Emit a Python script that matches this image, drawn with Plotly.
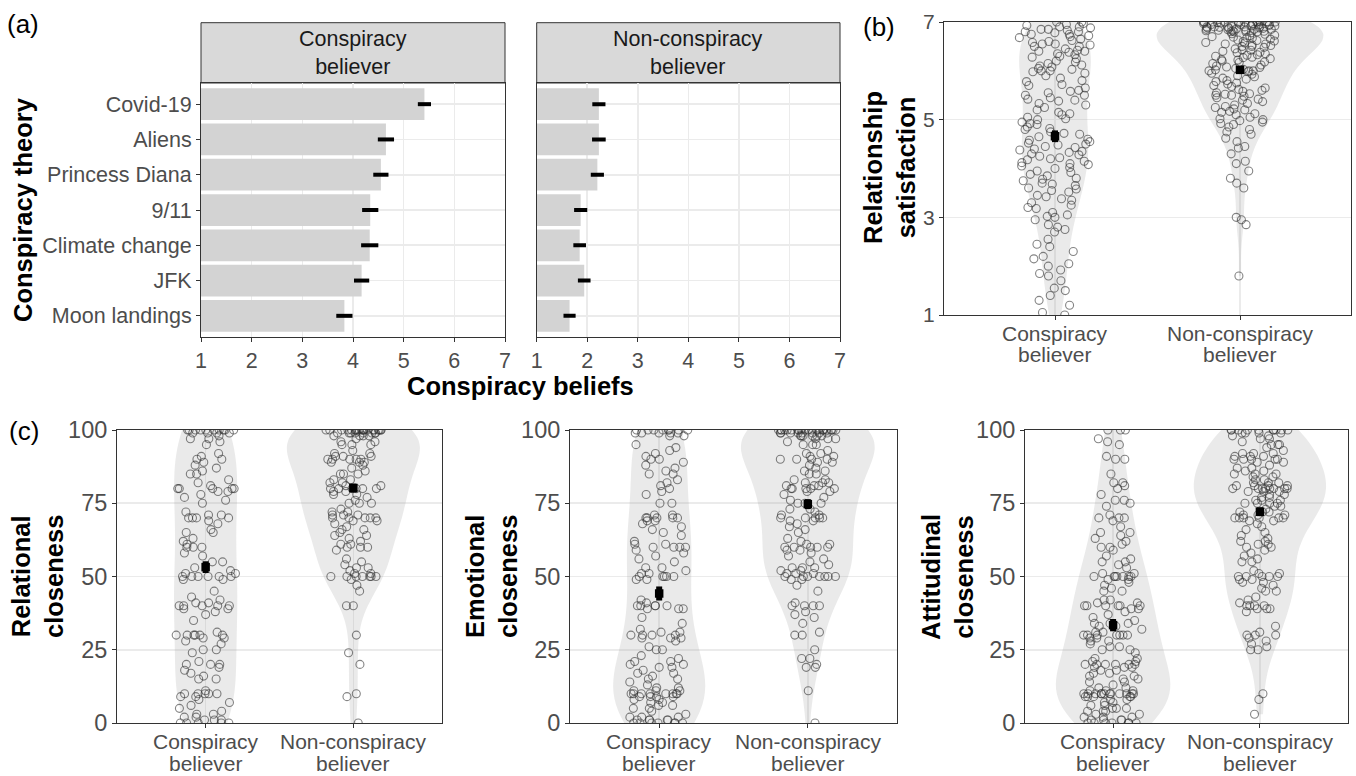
import plotly.graph_objects as go

W, H = 1356, 776
FONT = "Liberation Sans, Arial, Helvetica, sans-serif"

# ---------------- data ----------------
theories = ["Covid-19", "Aliens", "Princess Diana", "9/11", "Climate change", "JFK", "Moon landings"]
believer_means = [5.41, 4.65, 4.55, 4.34, 4.33, 4.17, 3.83]
believer_se = [0.13, 0.16, 0.15, 0.16, 0.17, 0.15, 0.16]
nonbeliever_means = [2.23, 2.23, 2.20, 1.87, 1.85, 1.94, 1.65]
nonbeliever_se = [0.13, 0.135, 0.13, 0.13, 0.125, 0.125, 0.12]

groups = ["Conspiracy believer", "Non-conspiracy believer"]
group_line1 = ["Conspiracy", "Non-conspiracy"]
group_line2 = ["believer", "believer"]

sat_believer = [
    7.0, 7.0, 6.97, 6.95, 6.93, 6.9, 6.9, 6.88, 6.85, 6.85, 6.83, 6.8, 6.8, 6.78, 6.75, 6.75, 6.72, 6.7,
    6.68, 6.65, 6.62, 6.6, 6.58, 6.55, 6.55, 6.53, 6.5, 6.5,
    6.45, 6.42, 6.4, 6.4, 6.38, 6.35, 6.33, 6.3, 6.28, 6.25, 6.2, 6.18, 6.15, 6.12, 6.1, 6.08, 6.05,
    6.03, 6.0, 6.0, 5.98, 5.95,
    5.9, 5.85, 5.8, 5.78, 5.72, 5.7, 5.65, 5.6, 5.58, 5.55, 5.5, 5.5,
    5.45, 5.42, 5.4, 5.38, 5.33, 5.3, 5.25, 5.2, 5.15, 5.12, 5.1, 5.05, 5.02, 5.0,
    4.95, 4.92, 4.9, 4.85, 4.82, 4.8, 4.75, 4.72, 4.7, 4.65, 4.6, 4.58, 4.55, 4.52, 4.5,
    4.48, 4.45, 4.43, 4.4, 4.38, 4.35, 4.33, 4.3, 4.28, 4.25, 4.22, 4.2, 4.18, 4.15, 4.12, 4.1, 4.08,
    4.05, 4.02, 4.0,
    3.95, 3.92, 3.88, 3.85, 3.8, 3.78, 3.75, 3.7, 3.68, 3.65, 3.6, 3.58, 3.55, 3.52,
    3.45, 3.42, 3.38, 3.35, 3.3, 3.25, 3.2, 3.18, 3.1, 3.05, 3.02, 3.0,
    2.95, 2.85, 2.8, 2.75, 2.7, 2.55,
    2.45, 2.4, 2.3, 2.2, 2.15, 2.05, 2.0,
    1.92, 1.85, 1.8, 1.7, 1.55, 1.5,
    1.4, 1.3, 1.2, 1.05, 1.0,
]
sat_nonbeliever = [
    7.0, 7.0, 7.0, 7.0, 7.0, 7.0, 7.0, 7.0, 7.0, 7.0, 7.0, 7.0, 6.98, 6.97, 6.95, 6.95, 6.95, 6.93,
    6.92, 6.9, 6.9, 6.9, 6.9, 6.88, 6.87, 6.85, 6.85, 6.85, 6.83, 6.82, 6.8, 6.8, 6.8, 6.8, 6.97,
    6.96, 6.94, 6.92, 6.9, 6.88, 6.86, 6.84, 6.82, 6.81, 6.99, 6.98, 6.91, 6.89, 6.87, 6.83,
    6.78, 6.75, 6.73, 6.72, 6.7, 6.68, 6.67, 6.65, 6.63, 6.62, 6.6, 6.58, 6.57, 6.55, 6.55, 6.53,
    6.52, 6.5, 6.5, 6.76, 6.69, 6.61,
    6.48, 6.45, 6.43, 6.42, 6.4, 6.38, 6.37, 6.35, 6.33, 6.32, 6.3, 6.28, 6.27, 6.25, 6.23, 6.22,
    6.2, 6.18, 6.17, 6.15, 6.12, 6.1, 6.08, 6.07, 6.05, 6.03, 6.02, 6.0, 6.0, 6.0,
    5.98, 5.95, 5.93, 5.9, 5.88, 5.85, 5.83, 5.8, 5.78, 5.75, 5.73, 5.7, 5.68, 5.65, 5.62, 5.6,
    5.58, 5.55, 5.53, 5.52, 5.5, 5.5,
    5.48, 5.45, 5.42, 5.4, 5.37, 5.33, 5.3, 5.27, 5.25, 5.22, 5.2, 5.17, 5.15, 5.12, 5.1, 5.05,
    5.02, 5.0,
    4.98, 4.95, 4.92, 4.9, 4.85, 4.8, 4.75, 4.7, 4.62, 4.55,
    4.45, 4.42, 4.3, 4.15, 4.1,
    3.95, 3.8, 3.7, 3.6,
    3.0, 2.95, 2.85,
    1.8,
]

rel_believer = [
    100, 100, 100, 100, 100, 99, 99, 100, 100, 99, 100, 100, 99, 98, 100,
    97, 96, 95, 97,
    92, 91, 90, 90, 89,
    88, 87, 86, 85, 85,
    83, 82, 81, 80, 80, 80, 80, 80, 79, 79,
    78, 77, 76, 75,
    72, 71, 71, 70, 70, 70, 70, 69,
    68, 66, 65, 65,
    63, 62, 61, 60, 60, 60,
    58, 57, 55, 55,
    53, 52, 51, 51, 50, 50, 50, 50, 50, 50, 49, 49,
    45, 43,
    42, 41, 41, 40, 40, 40, 40, 40, 39, 39,
    38, 37, 35,
    31, 30, 30, 30, 30, 30, 30, 29, 29, 28,
    27, 25, 25, 24,
    21, 20, 20, 20, 19, 18,
    17, 16, 15, 15,
    11, 10, 10, 10, 10, 10, 9, 9,
    8, 7, 6, 5, 4,
    3, 3, 2, 2, 1, 1, 1, 0, 0, 0, 0, 0,
]
rel_nonbeliever = [
    100, 100, 100, 100, 100, 100, 100, 100, 100, 100, 100, 100, 100, 100, 100, 100, 100, 100, 100, 100,
    99, 99, 99, 99, 99, 99, 99, 99, 98, 98, 98, 98,
    97, 96, 96, 95, 95, 95,
    93, 92, 92, 91, 91, 91, 90, 90, 90, 90, 90, 89, 89, 89,
    88, 87, 86, 85, 85, 85,
    83, 83, 82, 82, 81, 81, 80, 80, 80, 80, 80, 80, 79, 79,
    78, 78, 77, 76, 75, 75, 75,
    73, 72, 72, 71, 71, 71, 70, 70, 70, 70, 70, 69, 69, 68,
    67, 66, 66, 65, 64, 64,
    63, 62, 61, 61, 60, 60, 60, 59,
    56, 55,
    54, 53, 53, 52, 51, 51, 50, 50, 50, 50, 50, 50, 50, 49,
    47, 45,
    40, 40,
    30, 24, 20, 10, 9, 0,
]

emo_believer = [
    100, 100, 100, 100, 100, 100, 100, 100, 99, 99, 99, 99, 99, 98, 98,
    95, 94, 93, 92, 91, 90, 90, 89,
    88, 87, 86, 85, 85,
    83, 82, 81, 80,
    79, 78, 75, 75,
    71, 71, 70, 70, 70, 70, 70, 69, 69,
    68, 67, 66, 65, 64,
    62, 61, 61, 60, 60, 60, 60, 59,
    58, 57, 56, 55,
    53, 53, 52, 51, 51, 50, 50, 50, 50, 50, 49, 49,
    42, 41, 40, 40, 40, 40, 40, 39, 39, 39,
    36, 34,
    32, 31, 31, 30, 30, 30, 30, 29, 29, 29, 28,
    26, 25, 25,
    23, 22, 21, 21, 20, 20, 19, 19,
    18, 17, 17, 16, 15, 15, 14, 13,
    12, 11, 11, 10, 10, 10, 10, 10, 10, 10, 9, 9, 9, 8, 8, 12, 11, 10, 9,
    7, 6, 6, 5, 4, 7, 5,
    3, 2, 2, 1, 1, 1, 1, 0, 0, 0, 0, 0, 0, 0, 2, 1,
]
emo_nonbeliever = [
    100, 100, 100, 100, 100, 100, 100, 100, 100, 100, 100, 100, 100, 100, 100, 100, 100, 100, 100, 100,
    100, 100, 99, 99, 99, 99, 99, 99, 99, 99, 98, 98, 98, 98, 98, 98, 97, 97, 97,
    96, 95, 95, 95,
    93, 92, 92, 91, 91, 90, 90, 90, 90, 89, 89, 88,
    87, 86, 86, 85, 85,
    83, 83, 82, 82, 82, 81, 81, 81, 80, 80, 80, 80, 80, 79, 79, 78,
    77, 76, 75, 75, 75,
    73, 73, 72, 71, 71, 70, 70, 70, 70, 70, 69, 69,
    68, 67, 66, 65,
    63, 62, 61, 61, 60, 60, 60, 60, 60, 59, 59,
    58, 57, 56, 55,
    54, 53, 53, 53, 52, 52, 51, 51, 51, 50, 50, 50, 50, 50, 50, 50, 49, 49,
    47, 45,
    41, 40, 40, 40, 40, 38,
    37, 36, 34,
    31, 30, 30,
    25, 22, 22, 20, 19, 19,
    11, 0,
]

att_believer = [
    100, 100, 100,
    97, 96, 95,
    91, 90, 90,
    85,
    82, 82, 81, 80,
    78, 76, 76, 75, 74,
    71, 70, 70, 70,
    69, 67, 65, 65, 64, 63,
    62, 61, 60, 60, 59,
    57, 56, 55, 55, 54, 53,
    51, 51, 50, 50, 50, 50, 50, 50, 50, 49, 49, 48,
    47, 46, 45, 45,
    42, 42, 41, 41, 40, 40, 40, 40, 40, 40, 39, 39,
    38, 37, 36, 35, 34, 34, 34,
    33, 33, 32, 31, 31, 30, 30, 30, 30, 30, 30, 30, 29, 29, 28, 28,
    27, 26, 26, 25, 25, 24,
    22, 22, 21, 21, 20, 20, 20, 20, 20, 20, 19, 19, 19,
    18, 18, 17, 17, 16, 16, 15, 15, 14, 14,
    13, 12, 12, 11, 11, 11, 10, 10, 10, 10, 10, 10, 10, 10, 10, 10, 10, 10, 9, 9, 9, 9, 9, 8,
    8, 7, 7, 6, 6, 5, 5, 5, 4, 4, 4,
    3, 3, 2, 2, 2, 1, 1, 1, 1, 0, 0, 0, 0, 0, 0, 0,
]
att_nonbeliever = [
    100, 100, 100, 100, 100, 100, 100, 100, 100, 100, 99, 99, 99, 99, 98, 98,
    97, 97, 96, 95, 95, 95, 94,
    93, 92, 92, 92, 91, 91, 91, 90, 90, 90, 90, 90, 89, 89,
    88, 87, 87, 86, 86, 85, 85, 85, 84, 84,
    83, 83, 82, 82, 82, 81, 81, 81, 81, 80, 80, 80, 80, 80, 80, 80, 80, 79, 79, 79, 78, 78,
    77, 77, 76, 76, 76, 75, 75, 75, 75, 74, 74,
    73, 72, 72, 72, 71, 71, 71, 70, 70, 70, 70, 70, 70, 69, 69, 68,
    67, 66, 65, 64,
    63, 62, 62, 61, 61, 60, 60, 59, 58,
    57, 56, 55, 55,
    52, 51, 51, 50, 50, 50, 50, 50, 49, 49, 48, 48,
    47, 46, 45, 45,
    43, 42, 41, 40, 40, 40, 40, 39, 39, 39, 38,
    33, 31, 30, 30, 30, 29,
    28, 27, 26, 25, 25,
    10, 8, 3,
]

sat_means = [4.66, 6.02]
sat_se = [0.12, 0.06]
rel_means = [53.2, 80.2]
rel_se = [2.0, 1.5]
emo_means = [44.2, 74.7]
emo_se = [2.4, 1.7]
att_means = [33.4, 72.1]
att_se = [2.1, 1.5]

# ---------------- layout helpers ----------------
def fx(p):
    return p / W


def fy(p):
    return 1 - p / H


AX_COL = "#333333"
TICK_COL = "#4d4d4d"
GRID = "#ebebeb"


def base_axis(size=21.5, **kw):
    d = dict(showline=True, linecolor=AX_COL, linewidth=1, mirror=True,
             ticks="outside", ticklen=4, tickcolor=AX_COL, tickwidth=1,
             showgrid=True, gridcolor=GRID, gridwidth=1.6, zeroline=False,
             automargin=False,
             tickfont=dict(family=FONT, size=size, color=TICK_COL), fixedrange=True)
    d.update(kw)
    return d


fig = go.Figure()
shapes = []
annotations = []

# ---------------- panel (a) ----------------
for i, (means, se) in enumerate([(believer_means, believer_se), (nonbeliever_means, nonbeliever_se)]):
    xa = "x" if i == 0 else "x2"
    ya = "y" if i == 0 else "y2"
    fig.add_trace(go.Bar(x=means, y=theories, orientation="h", width=0.9,
                         marker=dict(color="#d3d3d3", line=dict(width=0)),
                         xaxis=xa, yaxis=ya, showlegend=False, hoverinfo="skip"))
    fig.add_trace(go.Scatter(x=means, y=theories, mode="markers",
                             marker=dict(size=1, color="rgba(0,0,0,0)"),
                             error_x=dict(type="data", array=se, color="black", thickness=4, width=0),
                             xaxis=xa, yaxis=ya, showlegend=False, hoverinfo="skip"))

cat_order = list(reversed(theories))
fig.update_layout(
    xaxis=base_axis(domain=[fx(201), fx(505)], range=[1, 7], tickvals=[1, 2, 3, 4, 5, 6, 7], anchor="y"),
    yaxis=base_axis(domain=[fy(337), fy(83)], type="category", categoryorder="array",
                    categoryarray=cat_order, range=[-0.6, 6.6], anchor="x"),
    xaxis2=base_axis(domain=[fx(536.7), fx(840)], range=[1, 7], tickvals=[1, 2, 3, 4, 5, 6, 7], anchor="y2"),
    yaxis2=base_axis(domain=[fy(337), fy(83)], type="category", categoryorder="array",
                     categoryarray=cat_order, range=[-0.6, 6.6], anchor="x2",
                     showticklabels=False, ticks=""),
)

# ---------------- violin panels ----------------
violin_panels = [
    ("3", sat_believer, sat_nonbeliever, sat_means, sat_se, (944, 1351, 22, 315), [1, 7], [1, 3, 5, 7], 21),
    ("4", rel_believer, rel_nonbeliever, rel_means, rel_se, (117, 442, 430, 723), [0, 100], [0, 25, 50, 75, 100], 23.5),
    ("5", emo_believer, emo_nonbeliever, emo_means, emo_se, (570, 897, 430, 723), [0, 100], [0, 25, 50, 75, 100], 23.5),
    ("6", att_believer, att_nonbeliever, att_means, att_se, (1025, 1348, 430, 723), [0, 100], [0, 25, 50, 75, 100], 23.5),
]

for key, a, b, means, se, (x0, x1, y0, y1), yr, ytv, ysize in violin_panels:
    xs = [groups[0]] * len(a) + [groups[1]] * len(b)
    fig.add_trace(go.Violin(
        x=xs, y=a + b, points="all", jitter=0.45, pointpos=0, width=0.9,
        scalemode="count", scalegroup="g" + key, spanmode="hard",
        fillcolor="rgba(150,150,150,0.2)", line=dict(width=0, color="rgba(0,0,0,0)"),
        marker=dict(symbol="circle-open", size=8, color="rgba(50,50,50,0.6)",
                    line=dict(width=1.1, color="rgba(50,50,50,0.6)")),
        box_visible=False, meanline_visible=False,
        xaxis="x" + key, yaxis="y" + key, showlegend=False, hoverinfo="skip"))
    fig.add_trace(go.Scatter(
        x=groups, y=means, mode="markers",
        marker=dict(symbol="square", size=8.5, color="black"),
        error_y=dict(type="data", array=se, color="black", thickness=6, width=0),
        xaxis="x" + key, yaxis="y" + key, showlegend=False, hoverinfo="skip"))
    fig.layout["xaxis" + key] = base_axis(size=21, domain=[fx(x0), fx(x1)], type="category",
                                          categoryorder="array", categoryarray=groups,
                                          range=[-0.6, 1.6], tickvals=groups, showticklabels=False,
                                          anchor="y" + key)
    fig.layout["yaxis" + key] = base_axis(size=ysize, domain=[fy(y1), fy(y0)], range=yr, tickvals=ytv,
                                          anchor="x" + key)
    # two-line category labels (tighter line spacing than plotly's tick labels)
    for g, l1, l2 in zip(groups, group_line1, group_line2):
        for txt, dy in [(l1, 18), (l2, 40)]:
            annotations.append(dict(text=txt, x=g, xref="x" + key, y=fy(y1 + dy), yref="paper",
                                    showarrow=False, xanchor="center", yanchor="middle",
                                    font=dict(family=FONT, size=21, color=TICK_COL)))

# ---------------- strips ----------------
for (sx0, sx1, lab) in [(201, 505, "Conspiracy<br>believer"), (536.7, 840, "Non-conspiracy<br>believer")]:
    shapes.append(dict(type="rect", xref="paper", yref="paper", x0=fx(sx0), x1=fx(sx1),
                       y0=fy(83), y1=fy(22.7), fillcolor="#d9d9d9",
                       line=dict(color=AX_COL, width=1), layer="below"))
    annotations.append(dict(text=lab, x=fx((sx0 + sx1) / 2), y=fy(53), xref="paper", yref="paper",
                            showarrow=False, xanchor="center", yanchor="middle",
                            font=dict(family=FONT, size=21.5, color="#1a1a1a")))

TITLE_FONT = dict(family=FONT, size=25.5, color="black")


def title(text, x, y, angle=0):
    annotations.append(dict(text="<b>" + text + "</b>", x=fx(x), y=fy(y), xref="paper", yref="paper",
                            showarrow=False, xanchor="center", yanchor="middle", textangle=angle,
                            font=TITLE_FONT))


title("Conspiracy theory", 23, 210, -90)
title("Conspiracy beliefs", 520, 386)
title("Relationship<br>satisfaction", 889, 168, -90)
title("Relational<br>closeness", 37, 577, -90)
title("Emotional<br>closeness", 491, 577, -90)
title("Attitudinal<br>closeness", 947, 577, -90)

for lab, x, y in [("(a)", 23, 24), ("(b)", 879, 27), ("(c)", 24, 431)]:
    annotations.append(dict(text=lab, x=fx(x), y=fy(y), xref="paper", yref="paper", showarrow=False,
                            xanchor="center", yanchor="middle",
                            font=dict(family=FONT, size=26, color="black")))

fig.update_layout(
    width=W, height=H, autosize=False,
    margin=dict(l=0, r=0, t=0, b=0, autoexpand=False),
    paper_bgcolor="white", plot_bgcolor="white",
    shapes=shapes, annotations=annotations,
    font=dict(family=FONT),
    bargap=0.1, showlegend=False,
)

fig.write_html("out.html", config={"displayModeBar": False, "staticPlot": True},
               post_script="document.body.style.margin='0px';document.body.style.overflow='hidden';")
